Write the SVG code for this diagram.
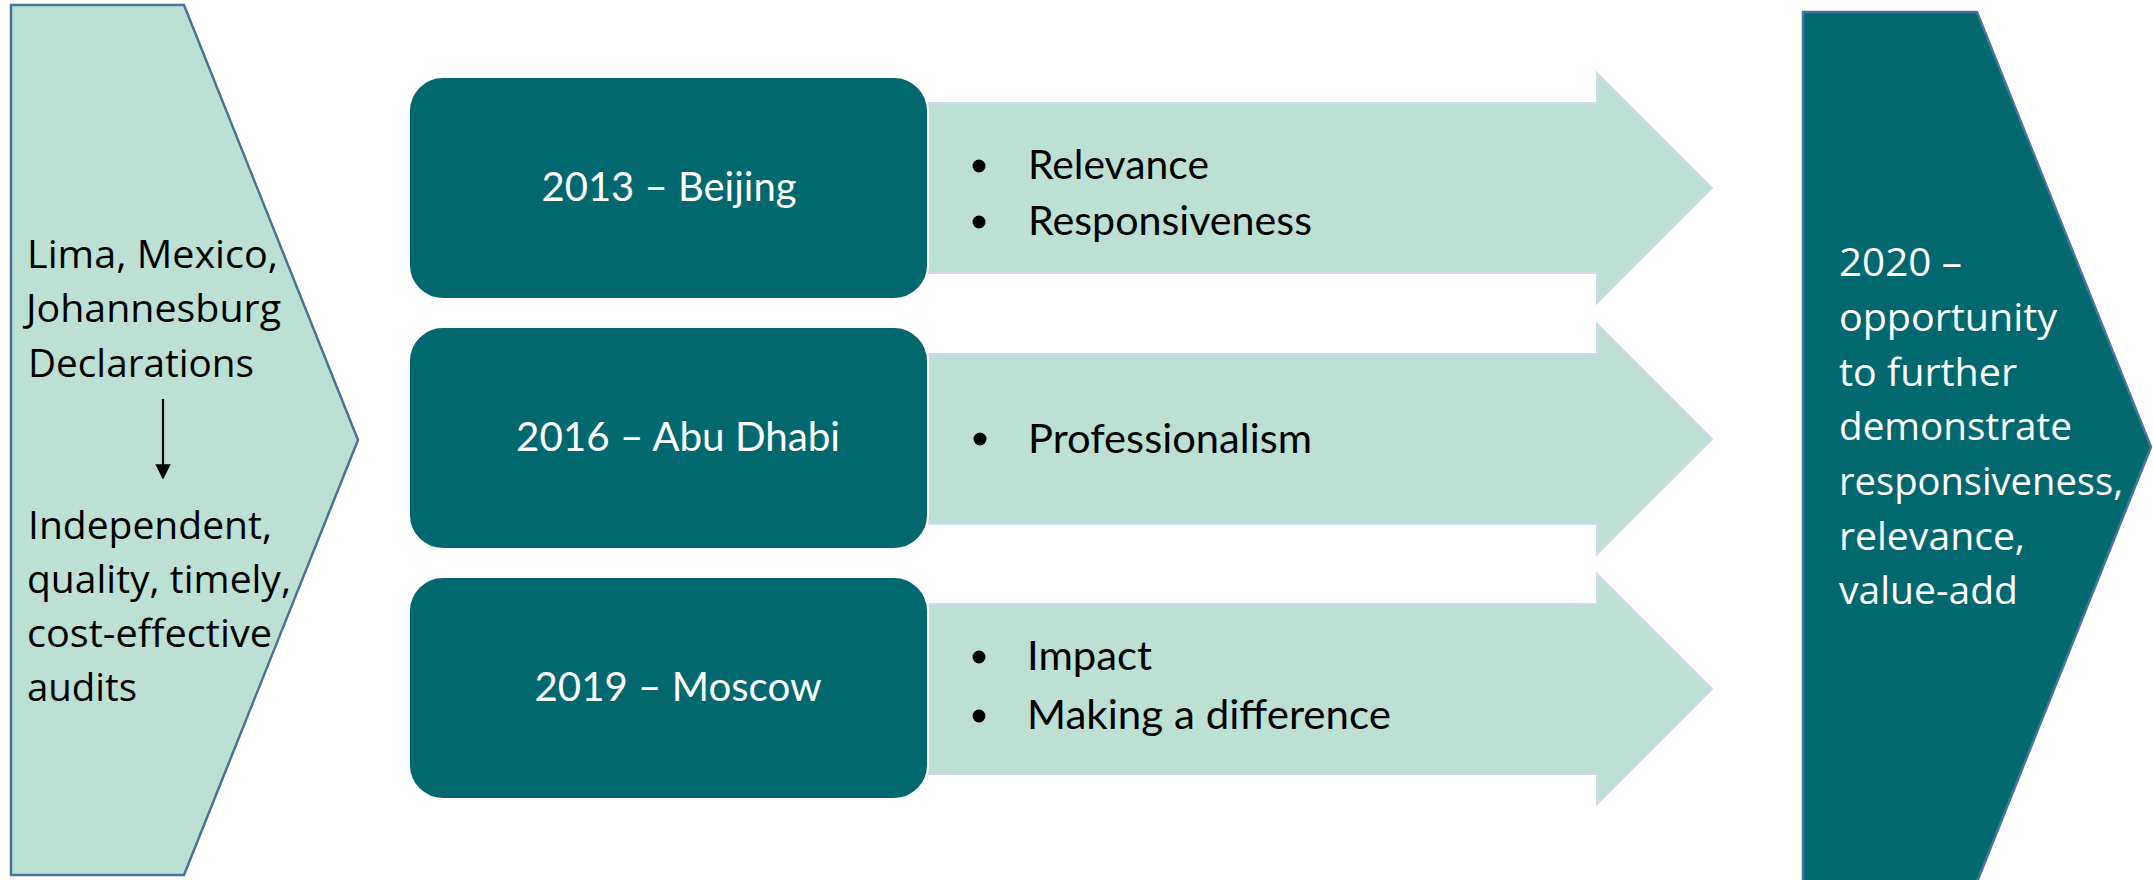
<svg xmlns="http://www.w3.org/2000/svg" width="2153" height="880" viewBox="0 0 2153 880">
  <style>
    .chev-light { fill: #BCE0D4; stroke: #4A74A0; stroke-width: 2.5; }
    .chev-dark { fill: #02686F; stroke: #4A74A0; stroke-width: 2.5; }
    .band { fill: #BCE0D4; stroke: #D3DAEC; stroke-width: 2; }
    .box { fill: #02686F; stroke: #FFFFFF; stroke-width: 2; }
    .chev-text { font-family: "Open Sans", "Liberation Sans", sans-serif; font-size: 38px; }
    .box-text { font-family: Lato, "Open Sans", sans-serif; font-size: 40px; fill: #FFFFFF; text-anchor: middle; }
    .item-text { font-family: Lato, "Open Sans", sans-serif; font-size: 40px; fill: #000000; }
    .dot { fill: #000000; }
  </style>
  <defs>
    <marker id="arrowhead" viewBox="0 0 10 10" refX="9" refY="5" markerWidth="7" markerHeight="7" orient="auto" markerUnits="strokeWidth">
      <path d="M0,0 L10,5 L0,10 z" fill="#000000"/>
    </marker>
  </defs>

  <rect width="2153" height="880" fill="#FFFFFF"/>

  <!-- Left chevron: declarations -->
  <g id="declarations">
    <polygon class="chev-light" points="11,5 184,5 358,440 184,875 11,875"/>
    <g class="chev-text" fill="#000000">
      <text x="27" y="268" textLength="251" lengthAdjust="spacingAndGlyphs">Lima, Mexico,</text>
      <text x="26" y="322" textLength="255" lengthAdjust="spacingAndGlyphs">Johannesburg</text>
      <text x="28" y="377" textLength="226" lengthAdjust="spacingAndGlyphs">Declarations</text>
      <text x="28" y="539" textLength="244" lengthAdjust="spacingAndGlyphs">Independent,</text>
      <text x="27" y="593" textLength="264" lengthAdjust="spacingAndGlyphs">quality, timely,</text>
      <text x="27" y="647" textLength="245" lengthAdjust="spacingAndGlyphs">cost-effective</text>
      <text x="27" y="701" textLength="110" lengthAdjust="spacingAndGlyphs">audits</text>
    </g>
  </g>

  <!-- Row 1: 2013 Beijing -->
  <g id="row-2013">
    <polygon class="band" points="900,103 1597,103 1597,73 1712,188 1597,303 1597,273 900,273"/>
    <rect class="box" x="409" y="77" width="519" height="222" rx="34" ry="34"/>
    <text class="box-text" x="669" y="201" textLength="255" lengthAdjust="spacingAndGlyphs">2013 – Beijing</text>
    <circle class="dot" cx="979" cy="166" r="6.5"/>
    <text class="item-text" x="1028" y="179" textLength="181" lengthAdjust="spacingAndGlyphs">Relevance</text>
    <circle class="dot" cx="979" cy="222" r="6.5"/>
    <text class="item-text" x="1028" y="235" textLength="284" lengthAdjust="spacingAndGlyphs">Responsiveness</text>
  </g>

  <!-- Row 2: 2016 Abu Dhabi -->
  <g id="row-2016">
    <polygon class="band" points="900,354 1597,354 1597,324 1712,439 1597,554 1597,524 900,524"/>
    <rect class="box" x="409" y="327" width="519" height="222" rx="34" ry="34"/>
    <text class="box-text" x="678" y="451" textLength="324" lengthAdjust="spacingAndGlyphs">2016 – Abu Dhabi</text>
    <circle class="dot" cx="980" cy="439" r="6.5"/>
    <text class="item-text" x="1028" y="453" textLength="284" lengthAdjust="spacingAndGlyphs">Professionalism</text>
  </g>

  <!-- Row 3: 2019 Moscow -->
  <g id="row-2019">
    <polygon class="band" points="900,604 1597,604 1597,574 1712,689 1597,804 1597,774 900,774"/>
    <rect class="box" x="409" y="577" width="519" height="222" rx="34" ry="34"/>
    <text class="box-text" x="678" y="701" textLength="287" lengthAdjust="spacingAndGlyphs">2019 – Moscow</text>
    <circle class="dot" cx="979" cy="657" r="6.5"/>
    <text class="item-text" x="1027" y="670" textLength="125" lengthAdjust="spacingAndGlyphs">Impact</text>
    <circle class="dot" cx="979" cy="716" r="6.5"/>
    <text class="item-text" x="1027" y="729" textLength="364" lengthAdjust="spacingAndGlyphs">Making a difference</text>
  </g>

  <!-- Right chevron: 2020 outlook -->
  <g id="outlook-2020">
    <polygon class="chev-dark" points="1803,12 1977,12 2151,447 1977,882 1803,882"/>
    <g class="chev-text" fill="#FFFFFF">
      <text x="1839" y="276" textLength="123" lengthAdjust="spacingAndGlyphs">2020 –</text>
      <text x="1839" y="331" textLength="218" lengthAdjust="spacingAndGlyphs">opportunity</text>
      <text x="1839" y="386" textLength="178" lengthAdjust="spacingAndGlyphs">to further</text>
      <text x="1839" y="440" textLength="233" lengthAdjust="spacingAndGlyphs">demonstrate</text>
      <text x="1839" y="495" textLength="284" lengthAdjust="spacingAndGlyphs">responsiveness,</text>
      <text x="1839" y="550" textLength="186" lengthAdjust="spacingAndGlyphs">relevance,</text>
      <text x="1839" y="604" textLength="179" lengthAdjust="spacingAndGlyphs">value-add</text>
    </g>
  </g>

  <!-- Connectors -->
  <g id="connectors">
    <line x1="163" y1="399" x2="163" y2="478" stroke="#000000" stroke-width="2.2" marker-end="url(#arrowhead)"/>
  </g>
</svg>
